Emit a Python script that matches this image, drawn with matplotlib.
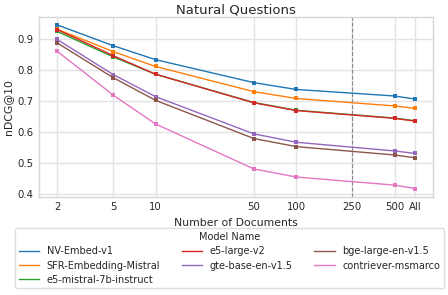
import matplotlib
matplotlib.use("Agg")
import matplotlib.pyplot as plt
from matplotlib.lines import Line2D
from matplotlib.ticker import FixedLocator, NullLocator

# === Data =====================================================================
num_docs = [2, 5, 10, 50, 100, 500, 700]
tick_values = [2, 5, 10, 50, 100, 250, 500, 700]
tick_labels = ['2', '5', '10', '50', '100', '250', '500', 'All']

model_names = ['NV-Embed-v1', 'SFR-Embedding-Mistral', 'e5-mistral-7b-instruct',
               'e5-large-v2', 'gte-base-en-v1.5', 'bge-large-en-v1.5',
               'contriever-msmarco']

nv_embed = [0.945, 0.878, 0.833, 0.759, 0.737, 0.716, 0.706]
sfr_mistral = [0.931, 0.859, 0.811, 0.730, 0.708, 0.684, 0.676]
e5_mistral = [0.924, 0.842, 0.786, 0.695, 0.670, 0.645, 0.636]
e5_large = [0.930, 0.846, 0.786, 0.694, 0.669, 0.644, 0.635]
gte_base = [0.898, 0.785, 0.714, 0.594, 0.567, 0.539, 0.531]
bge_large = [0.887, 0.775, 0.702, 0.579, 0.553, 0.526, 0.517]
contriever = [0.860, 0.719, 0.626, 0.481, 0.455, 0.429, 0.418]

series = [nv_embed, sfr_mistral, e5_mistral, e5_large, gte_base, bge_large, contriever]
colors = ['#1f77b4', '#ff7f0e', '#2ca02c', '#d62728', '#9467bd', '#8c564b', '#e377c2']

# === Plot =====================================================================
plt.rcParams['font.family'] = ['DejaVu Sans']
plt.rcParams['text.color'] = '#262626'
plt.rcParams['axes.labelcolor'] = '#262626'
plt.rcParams['xtick.color'] = '#262626'
plt.rcParams['ytick.color'] = '#262626'

fig = plt.figure(figsize=(4.48, 2.95), dpi=100)
ax = fig.add_axes([0.0877, 0.3332, 0.9665 - 0.0877, 0.9434 - 0.3332])

for name, vals, col in zip(model_names, series, colors):
    ax.plot(num_docs, vals, color=col, linewidth=1.0, marker='s', markersize=2.2,
            markeredgewidth=0, label=name)

ax.set_xscale('log')
ax.xaxis.set_major_locator(FixedLocator(tick_values))
ax.xaxis.set_minor_locator(NullLocator())
ax.set_xticklabels(tick_labels)
ax.axvline(250, color='#888888', linestyle='--', linewidth=0.8, zorder=1)

ax.set_yticks([0.4, 0.5, 0.6, 0.7, 0.8, 0.9])
ax.tick_params(axis='both', length=0, labelsize=7.3, pad=4)
ax.grid(True, color='#e3e3e3', linewidth=1.0, zorder=0)
ax.set_axisbelow(True)
for spine in ax.spines.values():
    spine.set_color('#d6d6d6')
    spine.set_linewidth(1.0)

ax.set_title('Natural Questions', fontsize=9.5, pad=1.5)
ax.set_xlabel('Number of Documents', fontsize=7.8, labelpad=4)
ax.set_ylabel('nDCG@10', fontsize=7.8, labelpad=3)

# legend shows plain lines, no markers
handles = [Line2D([], [], color=c, linewidth=1.0) for c in colors]
fig.legend(handles, model_names, title='Model Name', loc='upper center',
           bbox_to_anchor=(0.512, 0.242), ncol=3, fontsize=7, title_fontsize=7,
           frameon=True, edgecolor='#d6d6d6', fancybox=True, handlelength=2.1,
           handletextpad=0.8, columnspacing=2.2, labelspacing=0.42, borderpad=0.4)

fig.savefig('out.png', dpi=100)
